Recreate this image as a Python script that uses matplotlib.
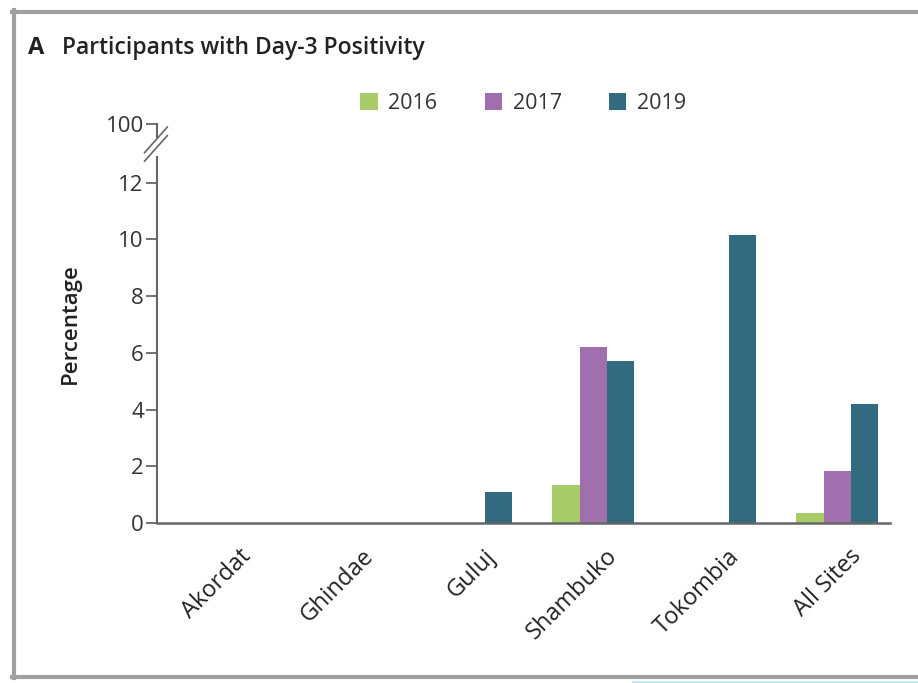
import matplotlib.pyplot as plt
from matplotlib.lines import Line2D
import numpy as np

plt.rcParams['font.family'] = ['Open Sans', 'DejaVu Sans']

sites = ['Akordat', 'Ghindae', 'Guluj', 'Shambuko', 'Tokombia', 'All Sites']
years = ['2016', '2017', '2019']
pos2016 = [0, 0, 0, 1.35, 0, 0.35]
pos2017 = [0, 0, 0, 6.2, 0, 1.85]
pos2019 = [0, 0, 1.1, 5.7, 10.15, 4.2]
colors = ['#a6cb67', '#9f70ad', '#326a80']

fig = plt.figure(figsize=(9.18, 6.83), dpi=100)
ax = fig.add_axes([0.171, 0.234, 0.798, 0.584])

x = np.arange(len(sites))
w = 0.222
for i, (vals, yr) in enumerate(zip([pos2016, pos2017, pos2019], years)):
    ax.bar(x + (i - 1) * w, vals, w, color=colors[i], label=yr, zorder=2)

ax.set_xlim(-0.575, 5.43)
ax.set_ylim(0, 14.05)
ax.set_yticks([0, 2, 4, 6, 8, 10, 12, 14.05])
ax.set_yticklabels(['0', '2', '4', '6', '8', '10', '12', '100'])
ax.set_xticks(x)
ax.set_xticklabels([])
ax.tick_params(axis='y', length=8, width=1.3, color='#666666', labelsize=16,
               labelcolor='#333333', pad=1.5)
ax.tick_params(axis='x', length=0)

for s in ['top', 'right', 'left']:
    ax.spines[s].set_visible(False)
ax.spines['bottom'].set_color('#666666')
ax.spines['bottom'].set_linewidth(1.8)

# broken y axis
gc = '#666666'
ax.plot([0, 0], [0, 12.9], transform=ax.get_yaxis_transform(), color=gc, lw=1.5, clip_on=False)
ax.plot([0, 0], [13.6, 14.05], transform=ax.get_yaxis_transform(), color=gc, lw=1.5, clip_on=False)
for dy in [0, 0.3]:
    ax.plot([-0.017, 0.014], [12.75 + dy, 13.65 + dy], transform=ax.get_yaxis_transform(),
            color=gc, lw=1.2, clip_on=False)

for xi, name in zip(x, sites):
    ax.text(xi + 0.1, -0.75, name, rotation=45, rotation_mode='anchor', ha='right',
            va='top', fontsize=17, color='#222222')

ax.set_ylabel('Percentage', fontsize=16, fontweight='semibold', labelpad=18, color='#222222')

ax.legend(loc='center', bbox_to_anchor=(0.50, 1.052), ncol=3, frameon=False,
          fontsize=15.5, handlelength=0.8, handleheight=0.8, columnspacing=2.2,
          handletextpad=0.5, labelcolor='#333333')

fig.text(0.031, 0.929, 'A', fontsize=17, fontweight='bold', color='#222222', va='center')
fig.text(0.067, 0.929, 'Participants with Day-3 Positivity', fontsize=16.5,
         fontweight='semibold', color='#222222', va='center')

# panel frame
fig.add_artist(Line2D([0.013, 1.0], [0.983, 0.983], color='#a0a0a0', lw=3))
fig.add_artist(Line2D([0.015, 0.015], [0.008, 0.985], color='#a0a0a0', lw=3))
fig.add_artist(Line2D([0.013, 1.0], [0.009, 0.009], color='#a0a0a0', lw=3))
fig.add_artist(Line2D([0.69, 1.0], [0.002, 0.002], color='#c4e6f0', lw=2))

fig.savefig('out.png', dpi=100)
